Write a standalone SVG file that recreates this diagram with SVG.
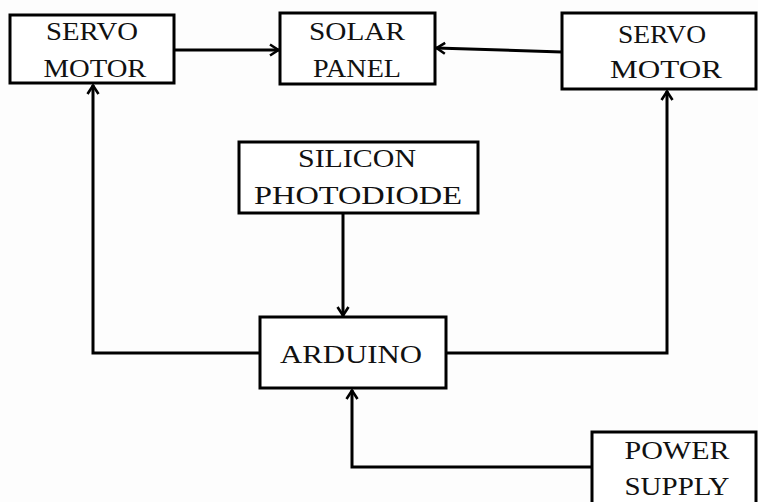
<svg xmlns="http://www.w3.org/2000/svg" width="758" height="502" viewBox="0 0 758 502">
<style>
.box{fill:#fff;stroke:#000;stroke-width:3}
.t{font-family:"Liberation Serif","Times New Roman",serif;font-size:26px;fill:#111;text-anchor:middle}
.c{fill:none;stroke:#000;stroke-width:3;stroke-linejoin:miter}
</style>
<defs>
<marker id="ah" viewBox="0 0 14 14" refX="13" refY="7" markerWidth="14" markerHeight="14" markerUnits="userSpaceOnUse" orient="auto">
<polyline points="4,1.5 12.5,7 4,12.5" fill="none" stroke="#000" stroke-width="2.6"/>
</marker>
</defs>
<rect width="758" height="502" fill="#fdfdfd"/>
<g id="connectors">
<line class="c" x1="174" y1="50" x2="279" y2="50" marker-end="url(#ah)"/>
<line class="c" x1="562" y1="52" x2="436" y2="48" marker-end="url(#ah)"/>
<line class="c" x1="343" y1="213" x2="343" y2="316" marker-end="url(#ah)"/>
<polyline class="c" points="260,353 93,353 93,85" marker-end="url(#ah)"/>
<polyline class="c" points="446,353 667,353 667,91" marker-end="url(#ah)"/>
<polyline class="c" points="592,467 352,467 352,390" marker-end="url(#ah)"/>
</g>
<g id="servo-left">
<rect class="box" x="10" y="15" width="164" height="68"/>
<text class="t" x="92" y="40" textLength="92" lengthAdjust="spacingAndGlyphs">SERVO</text>
<text class="t" x="95" y="77" textLength="103" lengthAdjust="spacingAndGlyphs">MOTOR</text>
</g>
<g id="solar-panel">
<rect class="box" x="280" y="13" width="155" height="71"/>
<text class="t" x="357" y="40" textLength="96" lengthAdjust="spacingAndGlyphs">SOLAR</text>
<text class="t" x="357" y="77" textLength="88" lengthAdjust="spacingAndGlyphs">PANEL</text>
</g>
<g id="servo-right">
<rect class="box" x="562" y="13" width="194" height="76"/>
<text class="t" x="662" y="43" textLength="88" lengthAdjust="spacingAndGlyphs">SERVO</text>
<text class="t" x="666" y="78" textLength="112" lengthAdjust="spacingAndGlyphs">MOTOR</text>
</g>
<g id="photodiode">
<rect class="box" x="239" y="142" width="239" height="71"/>
<text class="t" x="357" y="167" textLength="118" lengthAdjust="spacingAndGlyphs">SILICON</text>
<text class="t" x="358" y="204" textLength="208" lengthAdjust="spacingAndGlyphs">PHOTODIODE</text>
</g>
<g id="arduino">
<rect class="box" x="260" y="317" width="186" height="71"/>
<text class="t" x="351" y="363" textLength="142" lengthAdjust="spacingAndGlyphs">ARDUINO</text>
</g>
<g id="power-supply">
<rect class="box" x="592" y="432" width="164" height="75"/>
<text class="t" x="677" y="459" textLength="105" lengthAdjust="spacingAndGlyphs">POWER</text>
<text class="t" x="677" y="495" textLength="105" lengthAdjust="spacingAndGlyphs">SUPPLY</text>
</g>
</svg>
